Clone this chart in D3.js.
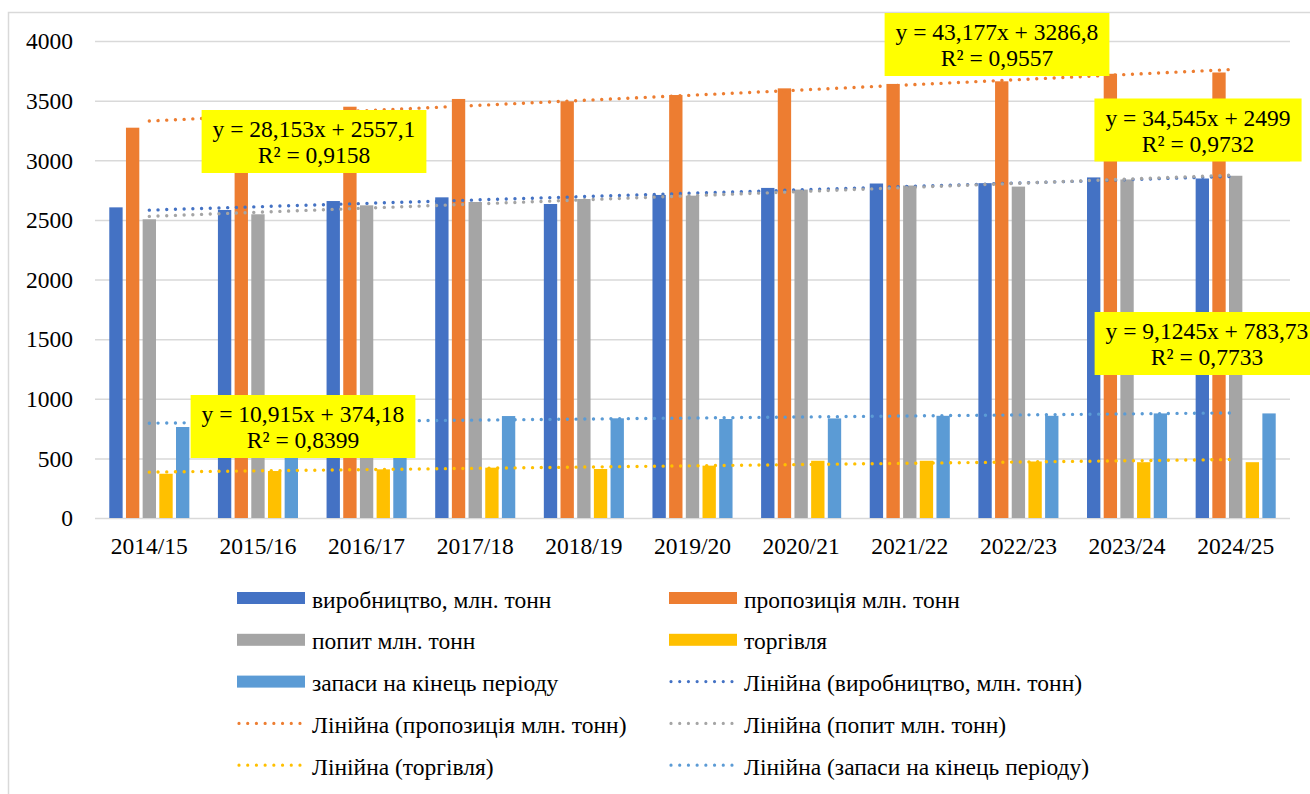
<!DOCTYPE html>
<html>
<head>
<meta charset="utf-8">
<script src="https://cdn.jsdelivr.net/npm/d3@7"></script>
<style>
  html, body { margin: 0; padding: 0; background: #fff; }
  svg { display: block; font-family: "Liberation Serif", "Times New Roman", serif; }
</style>
</head>
<body>
<svg id="chart" width="1310" height="794"></svg>
<script>
// ---- data ----
const categories = ["2014/15","2015/16","2016/17","2017/18","2018/19","2019/20","2020/21","2021/22","2022/23","2023/24","2024/25"];
const production = [2605, 2583, 2658, 2689, 2633, 2709, 2768, 2805, 2808, 2856, 2847];
const supply     = [3273, 3362, 3449, 3514, 3494, 3547, 3603, 3640, 3662, 3725, 3736];
const demand     = [2505, 2547, 2622, 2650, 2675, 2703, 2754, 2788, 2779, 2839, 2870];
const trade      = [371, 394, 408, 422, 411, 439, 480, 480, 474, 468, 468];
const stocks     = [763, 795, 840, 855, 836, 830, 835, 857, 857, 877, 877];
const yTicks = [0, 500, 1000, 1500, 2000, 2500, 3000, 3500, 4000];
const seriesNames = ["виробництво, млн. тонн", "пропозиція млн. тонн", "попит млн. тонн", "торгівля", "запаси на кінець періоду"];
const seriesColors = ["#4472C4", "#ED7D31", "#A5A5A5", "#FFC000", "#5B9BD5"];
const trendPrefix = "Лінійна";
const equationLines = [
  ["y = 28,153x + 2557,1", "R² = 0,9158"],
  ["y = 43,177x + 3286,8", "R² = 0,9557"],
  ["y = 34,545x + 2499", "R² = 0,9732"],
  ["y = 10,915x + 374,18", "R² = 0,8399"],
  ["y = 9,1245x + 783,73", "R² = 0,7733"]
];

// ---- layout (styles/positions) ----
const seriesValues = [production, supply, demand, trade, stocks];
const FONT = 23.5;
const svg = d3.select("#chart");
const plot = {left: 95, right: 1290, top: 41, bottom: 518};

// chart border
svg.append("rect").attr("x", 8.5).attr("y", 12.5).attr("width", 1400).attr("height", 900)
  .attr("fill", "none").attr("stroke", "#D9D9D9").attr("stroke-width", 1.5);

const y = d3.scaleLinear().domain([0, 4000]).range([plot.bottom, plot.top]);
const x0 = d3.scaleBand().domain(categories).range([plot.left, plot.right])
  .paddingInner(0.263).paddingOuter(0.1315);
const x1 = d3.scaleBand().domain(d3.range(seriesValues.length)).range([0, x0.bandwidth()])
  .paddingInner(0.2);

// gridlines
const yAxis = d3.axisLeft(y).tickValues(yTicks).tickSize(-(plot.right - plot.left)).tickPadding(22)
  .tickFormat(d3.format("d"));
const gy = svg.append("g").attr("transform", `translate(${plot.left},0)`).call(yAxis);
gy.select(".domain").remove();
gy.selectAll(".tick line").attr("stroke", "#D9D9D9").attr("stroke-width", 1.5);
gy.selectAll(".tick text").attr("font-size", FONT).attr("fill", "#000")
  .attr("font-family", "Liberation Serif").attr("dy", "0.33em");

// x axis labels
const xAxis = d3.axisBottom(x0).tickSize(0).tickPadding(0);
const gx = svg.append("g").attr("transform", `translate(0,${plot.bottom})`).call(xAxis);
gx.select(".domain").remove();
gx.selectAll(".tick text").attr("font-size", FONT).attr("fill", "#000")
  .attr("font-family", "Liberation Serif").attr("dy", null).attr("y", 36);

// bars
seriesValues.forEach((vals, s) => {
  svg.append("g").selectAll("rect").data(vals).join("rect")
    .attr("x", (d, i) => x0(categories[i]) + x1(s))
    .attr("width", x1.bandwidth())
    .attr("y", d => y(d))
    .attr("height", d => y(0) - y(d))
    .attr("fill", seriesColors[s]);
});

// trend lines (least squares on x = 1..n)
function linreg(vals) {
  const xs = vals.map((d, i) => i + 1);
  const mx = d3.mean(xs), my = d3.mean(vals);
  const num = d3.sum(xs, (xv, i) => (xv - mx) * (vals[i] - my));
  const den = d3.sum(xs, xv => (xv - mx) * (xv - mx));
  const a = num / den;
  return {a, b: my - a * mx};
}
const center = c => x0(c) + x0.bandwidth() / 2;
seriesValues.forEach((vals, s) => {
  const r = linreg(vals);
  const pts = [categories[0], categories[categories.length - 1]].map((c, k) => {
    const xi = k === 0 ? 1 : categories.length;
    return [center(c), y(r.a * xi + r.b)];
  });
  svg.append("path").attr("d", d3.line()(pts))
    .attr("stroke", seriesColors[s]).attr("stroke-width", 3.4)
    .attr("stroke-linecap", "round").attr("stroke-dasharray", "0.01 8.7").attr("fill", "none");
});

// equation labels: [series index, center x, top y]
const labelPos = [[0, 314, 110], [1, 997, 13], [2, 1198, 98.5], [3, 303, 395], [4, 1207, 312]];
labelPos.forEach(([s, cx, ty]) => {
  const g = svg.append("g");
  const rect = g.append("rect").attr("fill", "#FFFF00");
  const t1 = g.append("text").attr("x", cx).attr("y", ty + 27).attr("text-anchor", "middle")
    .attr("font-size", FONT).text(equationLines[s][0]);
  const t2 = g.append("text").attr("x", cx).attr("y", ty + 53).attr("text-anchor", "middle")
    .attr("font-size", FONT).text(equationLines[s][1]);
  const w = Math.max(t1.node().getComputedTextLength(), t2.node().getComputedTextLength()) + 22;
  rect.attr("x", cx - w / 2).attr("y", ty).attr("width", w).attr("height", 63);
});

// legend
const legendItems = seriesNames.map((n, i) => ({name: n, color: seriesColors[i], type: "bar"}))
  .concat(seriesNames.map((n, i) => ({name: `${trendPrefix} (${n})`, color: seriesColors[i], type: "line"})));
const colX = [237, 669];
legendItems.forEach((it, k) => {
  const col = k % 2, row = Math.floor(k / 2);
  const bx = colX[col], by = 607.5 + row * 41.8;
  const g = svg.append("g");
  if (it.type === "bar") {
    g.append("rect").attr("x", bx).attr("y", by - 15.5).attr("width", 68).attr("height", 12).attr("fill", it.color);
  } else {
    g.append("path").attr("d", d3.line()([[bx + 2, by - 9.5], [bx + 67, by - 9.5]]))
      .attr("stroke", it.color).attr("stroke-width", 3.2).attr("stroke-linecap", "round")
      .attr("stroke-dasharray", "0.01 8.7").attr("fill", "none");
  }
  g.append("text").attr("x", bx + 75).attr("y", by).attr("font-size", FONT).text(it.name);
});
</script>
</body>
</html>
